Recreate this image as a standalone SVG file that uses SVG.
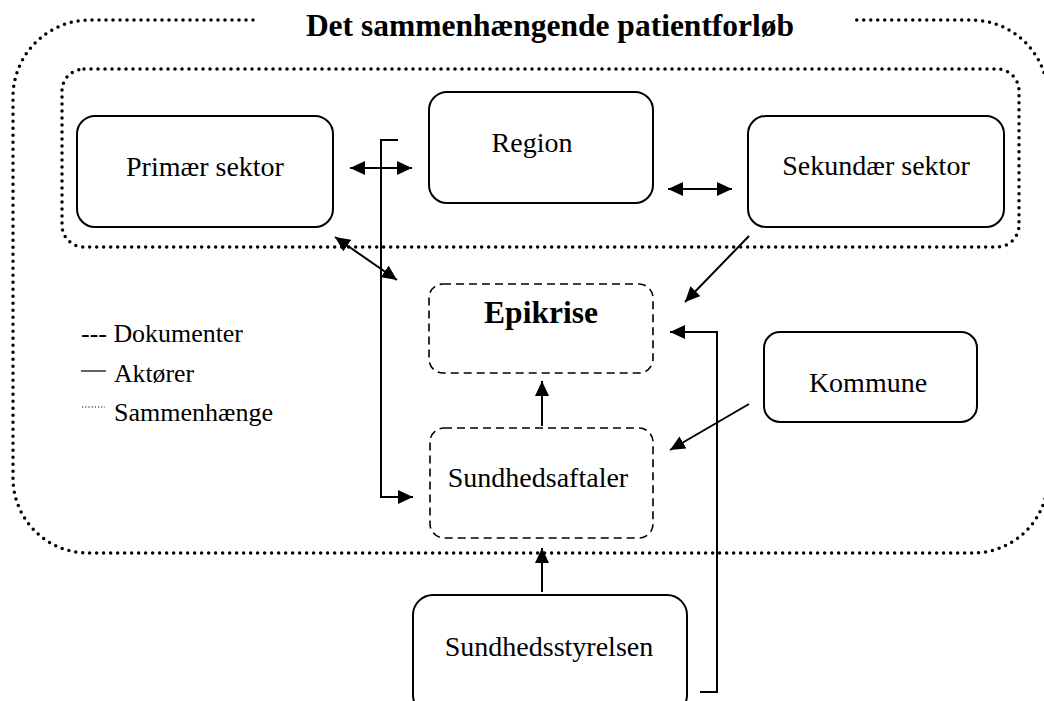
<svg xmlns="http://www.w3.org/2000/svg" width="1044" height="701" viewBox="0 0 1044 701">
  <defs>
    <marker id="arrow" viewBox="0 0 15 14" refX="15" refY="7" markerWidth="15" markerHeight="14" markerUnits="userSpaceOnUse" orient="auto-start-reverse">
      <path d="M0,0 L15,7 L0,14 z" fill="#000"/>
    </marker>
    <style>
      .dotted { fill: none; stroke: #000; stroke-width: 3.5; stroke-dasharray: 0 7; stroke-linecap: round; }
      .actor { fill: #fff; stroke: #000; stroke-width: 2; }
      .doc { fill: #fff; stroke: #000; stroke-width: 1.6; stroke-dasharray: 8 5; }
      text { font-family: 'Liberation Serif', 'DejaVu Serif', 'Times New Roman', serif; fill: #000; }
      .label { font-size: 28px; text-anchor: middle; }
      .bold { font-weight: bold; font-size: 31.5px; }
      .legend { font-size: 25px; }
      .conn { fill: none; stroke: #000; stroke-width: 2; }
    </style>
  </defs>
  <rect width="1044" height="701" fill="#fff"/>

  <!-- outer boundary: the coherent patient pathway, broken by the title -->
  <g id="pathway">
    <path class="dotted" d="M253,20 L90,20 A77,77 0 0 0 13,97 L13,478 A75,75 0 0 0 88,553 L973,553 A75,75 0 0 0 1048,478 L1048,97 A77,77 0 0 0 971,20 L853,20"/>
    <text class="label bold" x="550" y="36" font-family="Liberation Serif, serif">Det sammenhængende patientforløb</text>
  </g>

  <!-- inner boundary around the main actors -->
  <g id="actors-group">
    <rect class="dotted" x="62" y="69" width="957" height="178" rx="22"/>
  </g>

  <g id="primaer">
    <rect class="actor" x="77" y="116" width="256" height="111" rx="18"/>
    <text class="label" x="205" y="176">Primær sektor</text>
  </g>
  <g id="region">
    <rect class="actor" x="429" y="92" width="224" height="111" rx="18"/>
    <text class="label" x="532" y="152">Region</text>
  </g>
  <g id="sekundaer">
    <rect class="actor" x="748" y="116" width="256" height="111" rx="18"/>
    <text class="label" x="876" y="175">Sekundær sektor</text>
  </g>
  <g id="epikrise">
    <rect class="doc" x="429" y="284" width="224" height="89" rx="14"/>
    <text class="label bold" x="541" y="323">Epikrise</text>
  </g>
  <g id="sundhedsaftaler">
    <rect class="doc" x="430" y="428" width="223" height="110" rx="14"/>
    <text class="label" x="538" y="487">Sundhedsaftaler</text>
  </g>
  <g id="kommune">
    <rect class="actor" x="764" y="332" width="213" height="90" rx="16"/>
    <text class="label" x="868" y="392">Kommune</text>
  </g>
  <g id="sundhedsstyrelsen">
    <rect class="actor" x="413" y="595" width="274" height="120" rx="20"/>
    <text class="label" x="549" y="656">Sundhedsstyrelsen</text>
  </g>

  <g id="legend">
    <text class="legend" x="81" y="342" textLength="162" lengthAdjust="spacingAndGlyphs">--- Dokumenter</text>
    <line x1="81" y1="371" x2="106" y2="371" stroke="#000" stroke-width="1.2"/>
    <text class="legend" x="114" y="382" textLength="80" lengthAdjust="spacingAndGlyphs">Aktører</text>
    <line x1="82" y1="407" x2="105" y2="407" stroke="#000" stroke-width="1" stroke-dasharray="1.2 2"/>
    <text class="legend" x="114" y="421" textLength="159" lengthAdjust="spacingAndGlyphs">Sammenhænge</text>
  </g>

  <g id="connectors">
    <path class="conn" d="M350,168 L412,168" marker-start="url(#arrow)" marker-end="url(#arrow)"/>
    <path class="conn" d="M398,140 L381,140 L381,497 L413,497" marker-end="url(#arrow)"/>
    <path class="conn" d="M668,189 L732,189" marker-start="url(#arrow)" marker-end="url(#arrow)"/>
    <path class="conn" d="M335,237 L397,280" marker-start="url(#arrow)" marker-end="url(#arrow)"/>
    <path class="conn" d="M749,236 L685,302" marker-end="url(#arrow)"/>
    <path class="conn" d="M700,692 L717,692 L717,332 L670,332" marker-end="url(#arrow)"/>
    <path class="conn" d="M542,426 L542,381" marker-end="url(#arrow)"/>
    <path class="conn" d="M749,404 L670,450" marker-end="url(#arrow)"/>
    <path class="conn" d="M542,592 L542,548" marker-end="url(#arrow)"/>
  </g>
</svg>
